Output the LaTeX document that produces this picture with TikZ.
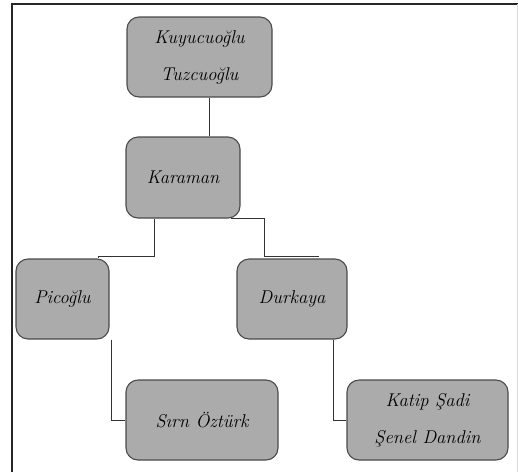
\documentclass[tikz,border=0pt]{standalone}
\usetikzlibrary{calc}
\definecolor{boxfill}{HTML}{ABABAB}
\definecolor{boxline}{HTML}{4A4A4A}
\definecolor{linkcol}{HTML}{333333}
\tikzset{
  person/.style={draw=boxline, line width=1.1pt, fill=boxfill, rounded corners=12pt,
    inner sep=0pt, align=center, font=\fontsize{18.5}{37}\selectfont\itshape, text=black},
  link/.style={draw=linkcol, line width=0.8pt}
}
\begin{document}
\begin{tikzpicture}[x=1pt,y=-1pt]
\useasboundingbox (0,0) rectangle (518,472);
% frame
\draw[line width=1.6pt, black!85] (12,472) -- (12,4) -- (518,4);
\draw[line width=0.8pt, black!15] (517,4) -- (517,472);
% nodes
\node[person, minimum width=145pt, minimum height=80pt] (top) at (199.5,57) {Kuyucuoğlu\\Tuzcuoğlu};
\node[person, minimum width=114pt, minimum height=81pt] (kar) at (183,177.5) {Karaman};
\node[person, minimum width=93pt, minimum height=80pt] (pic) at (62.5,299) {Picoğlu};
\node[person, minimum width=110pt, minimum height=80pt] (dur) at (292,299) {Durkaya};
\node[person, minimum width=152pt, minimum height=80pt] (sir) at (202,420) {Sırn Öztürk};
\node[person, minimum width=161pt, minimum height=80pt] (kat) at (427.5,420) {Katip Şadi\\Şenel Dandin};
% connectors
\draw[link] ([xshift=9.5pt]top.south) -- ([xshift=9.5pt]top.south |- kar.north);
\draw[link] ([xshift=-29pt]kar.south) |- ([xshift=35.5pt,yshift=2pt]pic.north) -- ([xshift=35.5pt]pic.north);
\draw[link] ([xshift=-10pt]kar.south east) -| ([xshift=-28pt,yshift=2pt]dur.north) -- ([xshift=27pt,yshift=2pt]dur.north);
\draw[link] ([xshift=2pt]pic.south east) |- (sir.west);
\draw[link] ([xshift=41pt]dur.south) |- (kat.west);
\end{tikzpicture}
\end{document}
